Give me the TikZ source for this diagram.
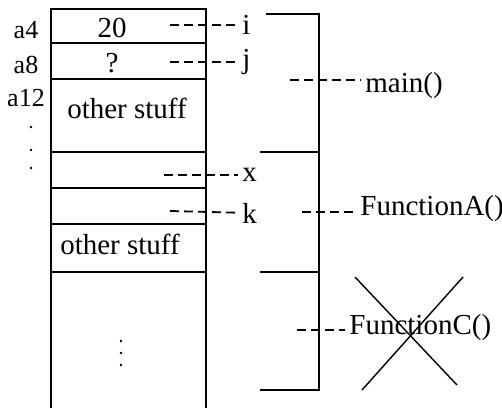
\documentclass[tikz,border=0pt]{standalone}
\usepackage{fontspec}
\setmainfont{Liberation Serif}

\begin{document}
\begin{tikzpicture}[x=0.5pt,y=-0.5pt]
        \tikzset{
        val/.style={font=\fontsize{14.5}{16}\selectfont, inner sep=0pt},
        addr/.style={font=\fontsize{13}{15}\selectfont, inner sep=0pt},
        lbl/.style={font=\fontsize{14.5}{16}\selectfont, inner sep=2pt},
        dt/.style={circle, fill, inner sep=0pt, minimum size=1.4pt},
        c1/.style={line width=0.6pt},
        c2/.style={line width=1pt},
        c3/.style={dash pattern=on 4.5pt off 2.5pt, line width=0.9pt},
        c4/.style={line width=1.3pt},
        c5/.style={line width=0.7pt}
        }
        \useasboundingbox (0,0) rectangle (502,408);

        % the stack
        \draw[c1] (51,408) -- (51,9) -- (206,9) -- (206,408);
        \foreach \y in {43,79,188,224,272}
            \draw[c1] (51,\y) -- (206,\y);
        \draw[c2] (51,152) -- (206,152);

        \node[val] (v1) at (112,28) {20};
        \node[val] (v2) at (112,63) {?};
        \node[val] (v3) at (127,108) {other stuff};
        \node[val] (v4) at (120,244) {other stuff};

        \node[addr] (a1) at (26,30) {a4};
        \node[addr] (a2) at (26,65) {a8};
        \node[addr] (a3) at (26,98) {a12};
        \foreach \y [count=\i] in {127,150,168}
            \node[dt] (d\i) at (31,\y) {};
        \foreach \y [count=\i] in {341,353,365}
            \node[dt] (e\i) at (121,\y) {};

        % variables
        \coordinate (p1) at (170,25);
        \coordinate (p2) at (170,62);
        \coordinate (p3) at (164,175);
        \coordinate (p4) at (170,211);
        \node[lbl, anchor=west] (n1) at (238,25) {i};
        \node[lbl, anchor=west] (n2) at (238,62) {j};
        \node[lbl, anchor=west] (n3) at (238,175) {x};
        \node[lbl, anchor=west] (n4) at (238,213) {k};
        \draw[c3] (p1) -- (n1);
        \draw[c3] (p2) -- (n2);
        \draw[c3] (p3) -- (n3);
        \draw[c3] (p4) -- (n4);

        % frames
        \draw[c4] (266,14) -| (319,390) -- (260,390);
        \draw[c4] (260,152) -- (319,152);
        \draw[c4] (260,272) -- (319,272);

        \coordinate (f1) at (290,80);
        \coordinate (f2) at (302,212);
        \coordinate (f3) at (297,330);
        \node[lbl, anchor=west] (m1) at (361,86) {main()};
        \node[lbl, anchor=west] (m2) at (356,209) {FunctionA()};
        \node[lbl, anchor=west] (m3) at (345,328) {FunctionC()};
        \draw[c3] (f1) -- (m1.west |- f1);
        \draw[c3] (f2) -- (m2.west |- f2);
        \draw[c3] (f3) -- (m3.west |- f3);

        \draw[c5] (355,277) -- (457,385);
        \draw[c5] (463,277) -- (362,390);
\end{tikzpicture}
\end{document}
